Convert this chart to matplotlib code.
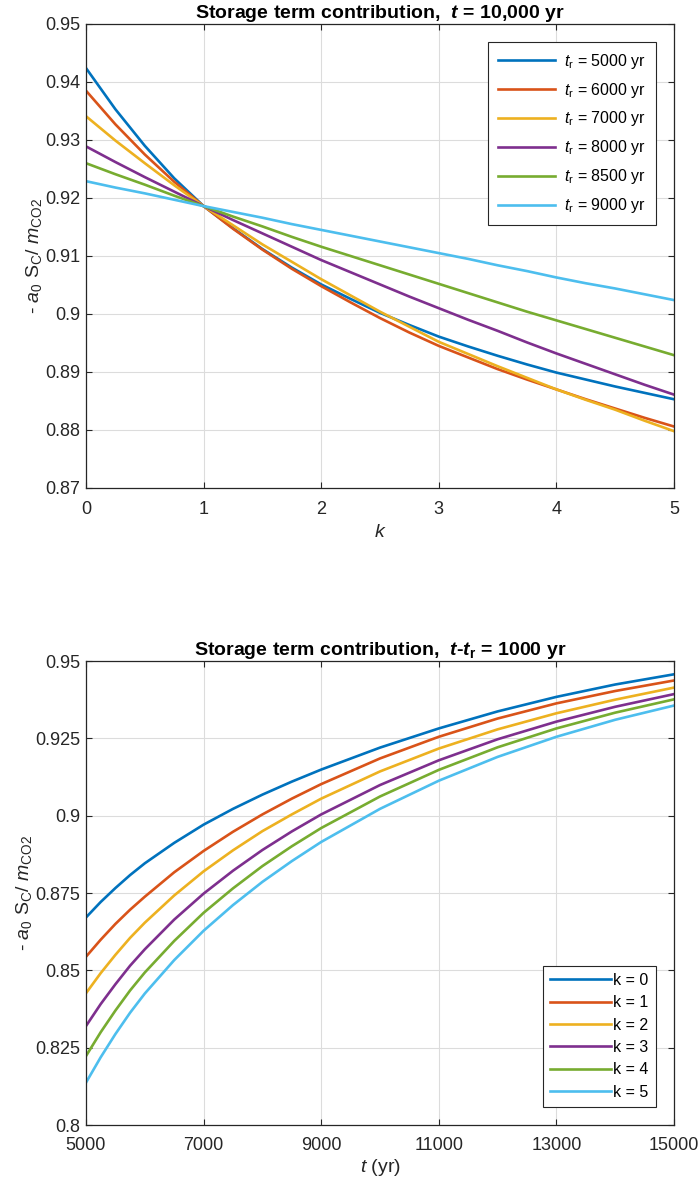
import matplotlib
matplotlib.use('Agg')
import matplotlib.pyplot as plt
from matplotlib.ticker import FormatStrFormatter

plt.rcParams['font.family'] = ['Liberation Sans', 'DejaVu Sans']
plt.rcParams['mathtext.fontset'] = 'custom'
plt.rcParams['mathtext.rm'] = 'Liberation Sans'
plt.rcParams['mathtext.it'] = 'Liberation Sans:italic'
plt.rcParams['mathtext.bf'] = 'Liberation Sans:bold:italic'
plt.rcParams['mathtext.sf'] = 'Liberation Sans:bold'

# MATLAB default colour order
colors = ['#0072BD', '#D95319', '#EDB120', '#7E2F8E', '#77AC30', '#4DBEEE']

# --- top panel: t = 10,000 yr, curves for several t_r ---
k_vals = [0, 0.25, 0.5, 0.75, 1, 1.25, 1.5, 1.75, 2, 2.25, 2.5, 2.75, 3,
          3.25, 3.5, 3.75, 4, 4.25, 4.5, 4.75, 5]
tr_labels = ['5000', '6000', '7000', '8000', '8500', '9000']
top_series = [
    [0.9424, 0.9353, 0.9290, 0.9234, 0.9186, 0.9148, 0.9112, 0.9080, 0.9051, 0.9026, 0.9002,
     0.8981, 0.8961, 0.8944, 0.8928, 0.8913, 0.8899, 0.8887, 0.8875, 0.8864, 0.8853],
    [0.9385, 0.9327, 0.9275, 0.9228, 0.9186, 0.9147, 0.9111, 0.9078, 0.9048, 0.9020, 0.8993,
     0.8968, 0.8945, 0.8925, 0.8905, 0.8887, 0.8870, 0.8853, 0.8837, 0.8821, 0.8806],
    [0.9341, 0.9299, 0.9260, 0.9222, 0.9186, 0.9153, 0.9120, 0.9090, 0.9060, 0.9032, 0.9004,
     0.8978, 0.8952, 0.8931, 0.8910, 0.8890, 0.8870, 0.8852, 0.8835, 0.8816, 0.8798],
    [0.9289, 0.9262, 0.9236, 0.9211, 0.9186, 0.9162, 0.9139, 0.9116, 0.9093, 0.9072, 0.9051,
     0.9030, 0.9010, 0.8990, 0.8971, 0.8951, 0.8932, 0.8914, 0.8896, 0.8878, 0.8861],
    [0.9260, 0.9241, 0.9223, 0.9204, 0.9186, 0.9168, 0.9151, 0.9133, 0.9116, 0.9100, 0.9084,
     0.9068, 0.9052, 0.9036, 0.9020, 0.9004, 0.8989, 0.8974, 0.8959, 0.8944, 0.8929],
    [0.9229, 0.9218, 0.9208, 0.9197, 0.9186, 0.9176, 0.9166, 0.9155, 0.9145, 0.9135, 0.9125,
     0.9115, 0.9105, 0.9095, 0.9084, 0.9074, 0.9063, 0.9053, 0.9044, 0.9034, 0.9024],
]

# --- bottom panel: t - t_r = 1000 yr, curves for k = 0..5 ---
t_vals = [5000, 5250, 5500, 5750, 6000, 6500, 7000, 7500, 8000, 8500, 9000,
          10000, 11000, 12000, 13000, 14000, 15000]
k_labels = ['0', '1', '2', '3', '4', '5']
bottom_series = [
    [0.8671, 0.8721, 0.8766, 0.8808, 0.8846, 0.8912, 0.8971, 0.9022, 0.9068, 0.9110, 0.9149,
     0.9220, 0.9282, 0.9337, 0.9384, 0.9424, 0.9457],
    [0.8544, 0.8599, 0.8650, 0.8696, 0.8738, 0.8817, 0.8886, 0.8948, 0.9004, 0.9055, 0.9102,
     0.9185, 0.9255, 0.9314, 0.9363, 0.9403, 0.9437],
    [0.8426, 0.8491, 0.8550, 0.8605, 0.8654, 0.8742, 0.8820, 0.8888, 0.8950, 0.9004, 0.9055,
     0.9143, 0.9217, 0.9279, 0.9331, 0.9375, 0.9414],
    [0.8320, 0.8391, 0.8455, 0.8515, 0.8568, 0.8664, 0.8748, 0.8822, 0.8889, 0.8949, 0.9004,
     0.9099, 0.9179, 0.9247, 0.9304, 0.9352, 0.9393],
    [0.8223, 0.8300, 0.8370, 0.8435, 0.8493, 0.8595, 0.8686, 0.8765, 0.8837, 0.8901, 0.8960,
     0.9062, 0.9148, 0.9221, 0.9282, 0.9333, 0.9376],
    [0.8137, 0.8219, 0.8294, 0.8363, 0.8425, 0.8533, 0.8628, 0.8711, 0.8786, 0.8853, 0.8915,
     0.9022, 0.9113, 0.9190, 0.9255, 0.9310, 0.9356],
]

ylab = r'- $a_0$ S$_{\rm C}$/ $m_{\rm CO2}$'
dark = '#262626'


def style_axes(ax):
    ax.grid(True, color='#dcdcdc', linewidth=0.8)
    ax.set_axisbelow(True)
    for sp in ax.spines.values():
        sp.set_color(dark)
        sp.set_linewidth(0.9)
    ax.tick_params(direction='in', length=4, width=0.8, color=dark,
                   labelcolor=dark, labelsize=13, top=True, right=True)
    ax.tick_params(axis='x', pad=9)
    ax.tick_params(axis='y', pad=4)


fig = plt.figure(figsize=(6.99, 11.89), dpi=100)
ax1 = fig.add_axes([86 / 699, 1 - 488 / 1189, 588 / 699, 464 / 1189])
ax2 = fig.add_axes([86 / 699, 1 - 1125 / 1189, 588 / 699, 464 / 1189])

for vals, lab, c in zip(top_series, tr_labels, colors):
    ax1.plot(k_vals, vals, color=c, lw=1.9, label=r'$t_{\rm r}$ = ' + lab + ' yr')
ax1.set_xlim(0, 5)
ax1.set_ylim(0.87, 0.95)
ax1.set_xticks([0, 1, 2, 3, 4, 5])
ax1.set_yticks([0.87, 0.88, 0.89, 0.9, 0.91, 0.92, 0.93, 0.94, 0.95])
ax1.yaxis.set_major_formatter(FormatStrFormatter('%g'))
style_axes(ax1)
ax1.set_title(r'Storage term contribution,  $\mathbf{t}$ = 10,000 yr',
              fontsize=14, fontweight='bold', pad=4)
ax1.set_xlabel('$k$', fontsize=14, color=dark, labelpad=5)
ax1.set_ylabel(ylab, fontsize=14, color=dark, labelpad=1)
leg1 = ax1.legend(loc='upper right', fontsize=11.5, handlelength=3.6,
                  handletextpad=0.55, labelspacing=0.62, borderpad=0.6,
                  borderaxespad=0, fancybox=False, edgecolor=dark, framealpha=1,
                  bbox_to_anchor=(0.969, 0.961))
leg1.get_frame().set_linewidth(0.8)

for vals, lab, c in zip(bottom_series, k_labels, colors):
    ax2.plot(t_vals, vals, color=c, lw=1.9, label='k = ' + lab)
ax2.set_xlim(5000, 15000)
ax2.set_ylim(0.8, 0.95)
ax2.set_xticks([5000, 7000, 9000, 11000, 13000, 15000])
ax2.set_yticks([0.8, 0.825, 0.85, 0.875, 0.9, 0.925, 0.95])
ax2.yaxis.set_major_formatter(FormatStrFormatter('%g'))
style_axes(ax2)
ax2.set_title(r'Storage term contribution,  $\mathbf{t}$-$\mathbf{t}_{\mathsf{r}}$ = 1000 yr',
              fontsize=14, fontweight='bold', pad=4)
ax2.set_xlabel('$t$ (yr)', fontsize=14, color=dark, labelpad=2)
ax2.set_ylabel(ylab, fontsize=14, color=dark, labelpad=1)
leg2 = ax2.legend(loc='lower right', fontsize=11.5, handlelength=3.8,
                  handletextpad=0.15, labelspacing=0.46, borderpad=0.45,
                  borderaxespad=0, fancybox=False, edgecolor=dark, framealpha=1,
                  bbox_to_anchor=(0.969, 0.039))
leg2.get_frame().set_linewidth(0.8)

fig.savefig('out.png', dpi=100, facecolor='white')
